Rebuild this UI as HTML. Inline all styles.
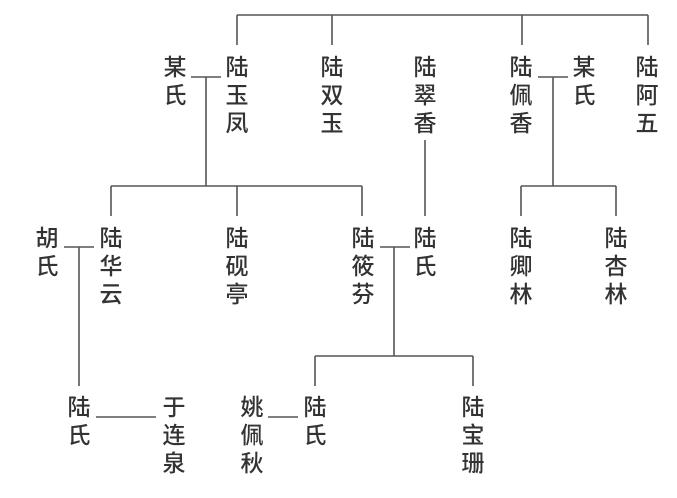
<!DOCTYPE html>
<html><head><meta charset="utf-8"><style>
body{margin:0;background:#fff;width:677px;height:498px;overflow:hidden;position:relative}
.t{position:absolute;width:30px;margin-left:-15px;text-align:center;font-family:"Liberation Sans","Noto Sans CJK SC",sans-serif;font-size:23px;font-weight:500;line-height:28px;color:#333}
svg{position:absolute;left:0;top:0}
</style></head><body>
<svg width="677" height="498" stroke="#555" stroke-width="1.6" fill="none">
<path d="M237 15H648M237 15V45M332 15V45M522 15V45M648 15V45"/>
<path d="M191 77H221M206 77V186M111 186H362M111 186V216M237 186V216M362 186V216"/>
<path d="M425 140V216"/>
<path d="M538 77H568M553 77V186M521 186H616M521 186V216M616 186V216"/>
<path d="M64 247H94M79 247V386"/>
<path d="M380 247H410M394 247V356M315 356H473M315 356V386M473 356V386"/>
<path d="M96 417H156M268 417H298"/>
</svg>
<div class="t" style="left:175px;top:53px">某<br>氏</div>
<div class="t" style="left:237px;top:53px">陆<br>玉<br>凤</div>
<div class="t" style="left:332px;top:53px">陆<br>双<br>玉</div>
<div class="t" style="left:425px;top:53px">陆<br>翠<br>香</div>
<div class="t" style="left:521px;top:53px">陆<br>佩<br>香</div>
<div class="t" style="left:584px;top:53px">某<br>氏</div>
<div class="t" style="left:647px;top:53px">陆<br>阿<br>五</div>
<div class="t" style="left:47px;top:224px">胡<br>氏</div>
<div class="t" style="left:111px;top:224px">陆<br>华<br>云</div>
<div class="t" style="left:237px;top:224px">陆<br>砚<br>亭</div>
<div class="t" style="left:363px;top:224px">陆<br>筱<br>芬</div>
<div class="t" style="left:425px;top:224px">陆<br>氏</div>
<div class="t" style="left:521px;top:224px">陆<br>卿<br>林</div>
<div class="t" style="left:616px;top:224px">陆<br>杏<br>林</div>
<div class="t" style="left:79px;top:393px">陆<br>氏</div>
<div class="t" style="left:174px;top:393px">于<br>连<br>泉</div>
<div class="t" style="left:252px;top:393px">姚<br>佩<br>秋</div>
<div class="t" style="left:315px;top:393px">陆<br>氏</div>
<div class="t" style="left:473px;top:393px">陆<br>宝<br>珊</div>
</body></html>
